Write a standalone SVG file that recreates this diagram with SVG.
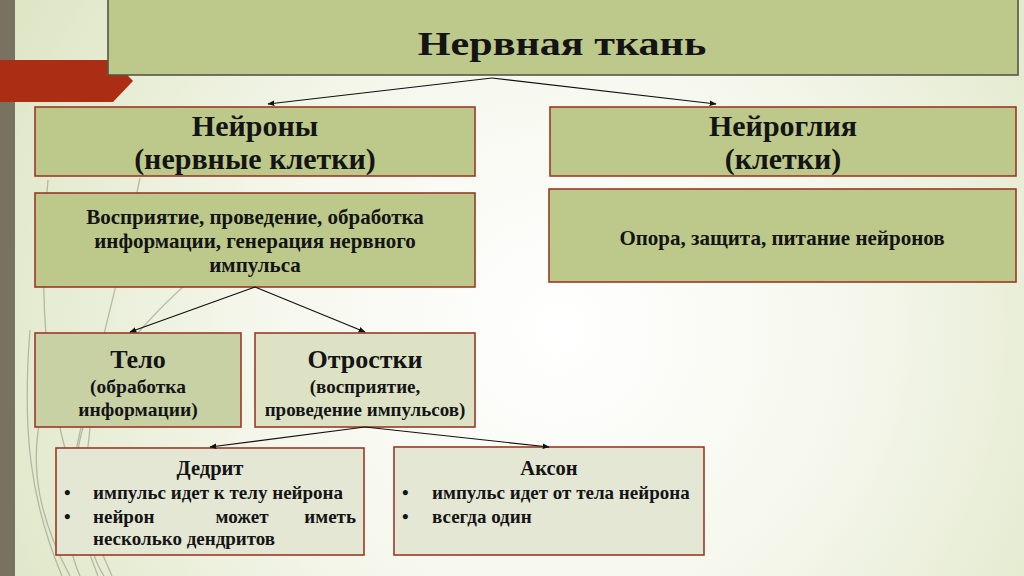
<svg xmlns="http://www.w3.org/2000/svg" width="1024" height="576" viewBox="0 0 1024 576">
<defs>
<radialGradient id="bg" cx="560" cy="330" r="620" gradientUnits="userSpaceOnUse">
<stop offset="0" stop-color="#ffffff"/>
<stop offset="0.45" stop-color="#f6f8ee"/>
<stop offset="1" stop-color="#dfe6c6"/>
</radialGradient>
<marker id="arr" viewBox="0 0 10 10" refX="9" refY="5" markerWidth="7" markerHeight="7" orient="auto" markerUnits="userSpaceOnUse">
<path d="M0,1 L10,5 L0,9 z" fill="#111"/>
</marker>
</defs>
<style>
.box{stroke:#9a3a26;stroke-width:1.6}
.g1{fill:#bcc98b}
.g2{fill:#c8d1a4}
.g3{fill:#dde2c5}
.g4{fill:#e4e7d4}
text{font-family:"Liberation Serif","Times New Roman",serif;font-weight:bold;fill:#141414}
.c{text-anchor:middle}
.conn line{stroke:#111;stroke-width:1.2;marker-end:url(#arr)}
.deco path{fill:none;stroke:#8e8c7c;stroke-width:1.3;opacity:0.55}
</style>
<rect width="1024" height="576" fill="url(#bg)"/>
<g class="deco">
<path d="M112 576 C 70 480, 30 380, 48 180"/>
<path d="M98 576 C 55 470, 70 390, 185 285"/>
<path d="M80 576 C 45 500, 95 400, 140 178"/>
<path d="M62 576 C 30 500, 22 430, 30 330"/>
<path d="M70 576 C 40 520, 30 470, 40 420" stroke-width="2.5"/>
<path d="M104 576 C 80 540, 85 470, 90 428"/>
</g>
<rect x="0" y="0" width="15" height="576" fill="#7a7260"/>
<polygon points="0,60 113,60 133,81 113,102 0,102" fill="#ab2e14"/>

<g id="title">
<rect x="108" y="-4" width="910" height="79" fill="#bcc98b" stroke="#55554a" stroke-width="1.6"/>
<text class="c" transform="translate(562,55) scale(1.24,1)" font-size="34">Нервная ткань</text>
</g>
<g id="neurons">
<rect class="box g1" x="35" y="107" width="440" height="69"/>
<text class="c" x="255" y="136" font-size="30">Нейроны</text>
<text class="c" x="255" y="169" font-size="30">(нервные клетки)</text>
</g>
<g id="neuroglia">
<rect class="box g1" x="550" y="107" width="466" height="69"/>
<text class="c" x="783" y="136" font-size="30">Нейроглия</text>
<text class="c" x="783" y="169" font-size="30">(клетки)</text>
</g>
<g id="functions">
<rect class="box g1" x="35" y="193" width="440" height="94"/>
<text class="c" x="255" y="224" font-size="21">Восприятие, проведение, обработка</text>
<text class="c" x="255" y="248" font-size="21">информации, генерация нервного</text>
<text class="c" x="255" y="272" font-size="21">импульса</text>
</g>
<g id="support">
<rect class="box g1" x="549" y="189" width="467" height="93"/>
<text class="c" x="782" y="245" font-size="21">Опора, защита, питание нейронов</text>
</g>
<g id="body">
<rect class="box g2" x="35" y="333" width="206" height="94"/>
<text class="c" x="138" y="368" font-size="26">Тело</text>
<text class="c" x="138" y="393" font-size="19.5">(обработка</text>
<text class="c" x="138" y="416" font-size="19.5">информации)</text>
</g>
<g id="processes">
<rect class="box g3" x="255" y="333" width="220" height="94"/>
<text class="c" x="365" y="368" font-size="26">Отростки</text>
<text class="c" x="365" y="393" font-size="19">(восприятие,</text>
<text class="c" x="365" y="416" font-size="19">проведение импульсов)</text>
</g>
<g id="dendrite">
<rect class="box g4" x="56" y="448" width="308" height="107"/>
<text class="c" x="210" y="475" font-size="20.5">Дедрит</text>
<text x="64" y="499" font-size="19">•</text>
<text x="93" y="499" font-size="19">импульс идет к телу нейрона</text>
<text x="64" y="523" font-size="19">•</text>
<text x="93" y="523" font-size="19">нейрон</text>
<text class="c" x="242" y="523" font-size="19">может</text>
<text x="356" y="523" font-size="19" text-anchor="end">иметь</text>
<text x="93" y="545" font-size="19">несколько дендритов</text>
</g>
<g id="axon">
<rect class="box g4" x="394" y="447" width="310" height="108"/>
<text class="c" x="549" y="475" font-size="20.5">Аксон</text>
<text x="402" y="499" font-size="19">•</text>
<text x="432" y="499" font-size="19">импульс идет от тела нейрона</text>
<text x="402" y="523" font-size="19">•</text>
<text x="432" y="523" font-size="19">всегда один</text>
</g>
<g class="conn" id="connectors">
<line x1="492" y1="78" x2="268" y2="104"/>
<line x1="492" y1="78" x2="716" y2="104"/>
<line x1="255" y1="287" x2="130" y2="332"/>
<line x1="255" y1="287" x2="365" y2="332"/>
<line x1="365" y1="427" x2="210" y2="447"/>
<line x1="365" y1="427" x2="549" y2="447"/>
</g>
</svg>
